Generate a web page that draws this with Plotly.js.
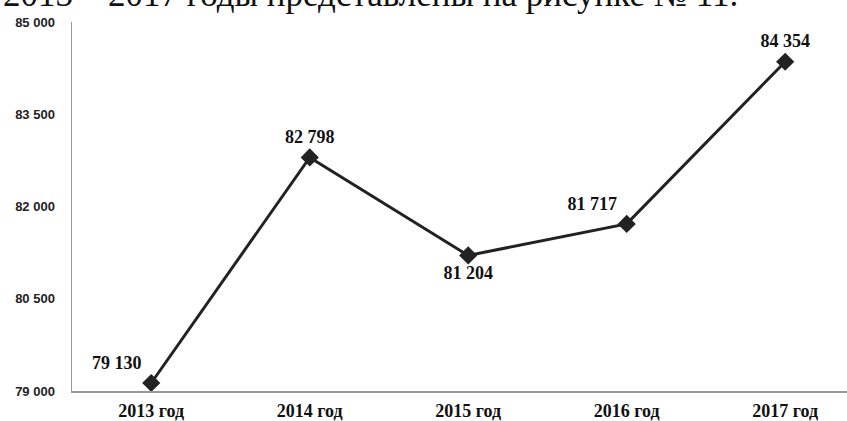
<!DOCTYPE html>
<html><head><meta charset="utf-8">
<script src="https://cdn.plot.ly/plotly-3.0.1.min.js"></script>
<style>html,body{margin:0;padding:0;background:#fff;}#chart{width:847px;height:421px;}</style>
</head><body><div id="chart"></div>
<script>
const categories = ["2013 год", "2014 год", "2015 год", "2016 год", "2017 год"];
const values = [79130, 82798, 81204, 81717, 84354];
const valueLabels = ["79 130", "82 798", "81 204", "81 717", "84 354"];
const yTickVals = [79000, 80500, 82000, 83500, 85000];
const yTickText = ["79 000", "80 500", "82 000", "83 500", "85 000"];
const labelPos = ["top left", "top center", "bottom center", "top left", "top center"];

const trace = {
  x: categories, y: values, type: "scatter", mode: "lines+markers+text",
  line: {color: "#222", width: 3},
  marker: {symbol: "diamond", size: 14, color: "#222"},
  text: valueLabels, textposition: labelPos,
  textfont: {family: "Liberation Serif, Times New Roman, serif", size: 18, color: "#111", weight: "bold"},
  cliponaxis: false, hoverinfo: "none"
};
const layout = {
  width: 847, height: 421,
  margin: {l: 72, r: 0, t: 22, b: 30},
  paper_bgcolor: "#fff", plot_bgcolor: "#fff",
  showlegend: false,
  xaxis: {type: "category", range: [-0.5, 4.39], showgrid: false, zeroline: false,
    showline: true, linecolor: "#999", linewidth: 1.5, ticks: "", ticklabelstandoff: 3,
    tickfont: {family: "Liberation Serif, Times New Roman, serif", size: 18, color: "#111", weight: "bold"}},
  yaxis: {range: [79000, 85000], tickvals: yTickVals, ticktext: yTickText, showgrid: false, zeroline: false,
    showline: true, linecolor: "#999", linewidth: 1.5, ticks: "", ticklabelstandoff: 13,
    tickfont: {family: "Liberation Sans, Arial, sans-serif", size: 13, color: "#222", weight: "bold"}},
  annotations: [{text: "2013 – 2017 годы представлены на рисунке № 11.", xref: "paper", yref: "paper",
    x: 0.862, y: 1.016, xanchor: "right", yanchor: "bottom", showarrow: false,
    font: {family: "Liberation Serif, Times New Roman, serif", size: 35, color: "#111"}}]
};
Plotly.newPlot("chart", [trace], layout, {staticPlot: true, displayModeBar: false});
</script></body></html>
